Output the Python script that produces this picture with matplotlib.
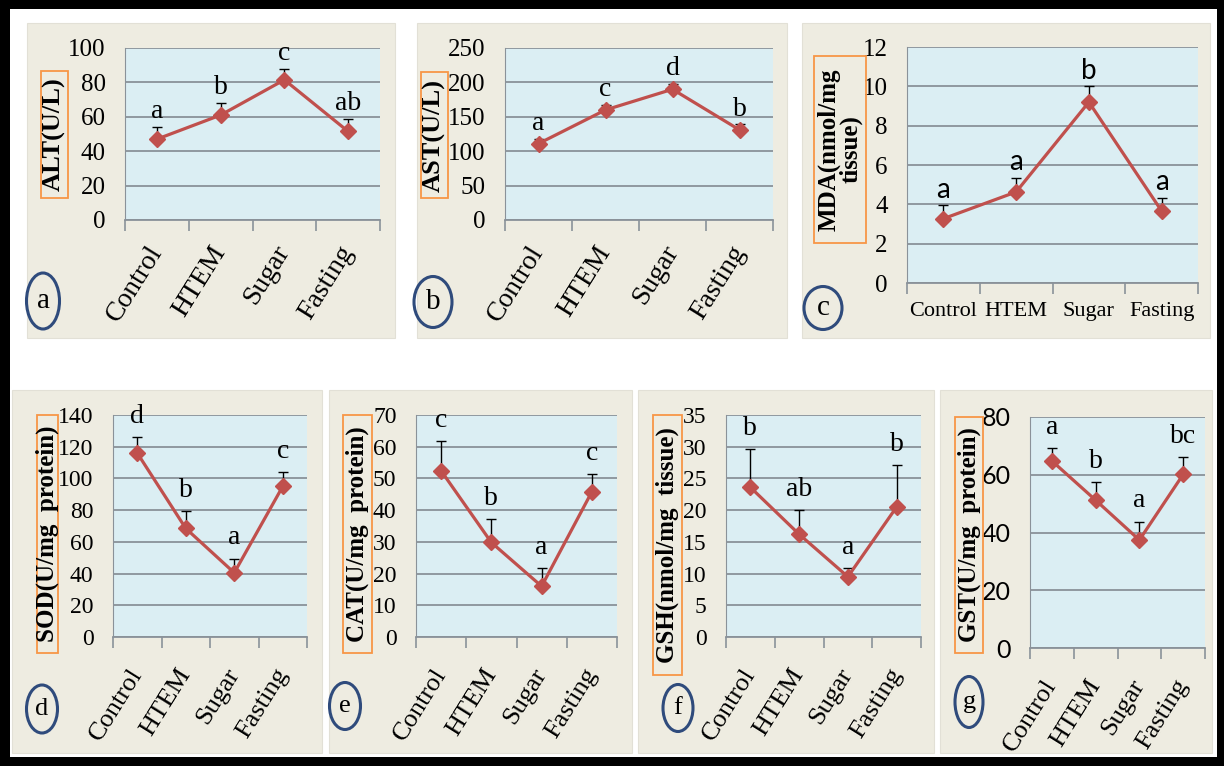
import numpy as np
import matplotlib
matplotlib.use("Agg")
import matplotlib.pyplot as plt
from matplotlib.patches import Rectangle, Ellipse

plt.rcParams['font.family'] = ['Liberation Serif', 'DejaVu Serif']

W, H = 1224, 766

# data
groups = ['Control', 'HTEM', 'Sugar', 'Fasting']

alt = [47, 61, 81.5, 51.5]
alt_err = [7, 7, 6.5, 7.5]
alt_sig = ['a', 'b', 'c', 'ab']

ast = [111, 160, 190, 131]
ast_err = [7, 7, 8, 8]
ast_sig = ['a', 'c', 'd', 'b']

mda = [3.27, 4.63, 9.2, 3.66]
mda_err = [0.68, 0.73, 0.8, 0.66]
mda_sig = ['a', 'a', 'b', 'a']

sod = [116, 68.5, 40.5, 95]
sod_err = [10, 11, 9, 9]
sod_sig = ['d', 'b', 'a', 'c']

cat = [52.4, 29.8, 16.0, 45.8]
cat_err = [9.4, 7.4, 5.6, 5.5]
cat_sig = ['c', 'b', 'a', 'c']

gsh = [23.6, 16.2, 9.5, 20.5]
gsh_err = [6.0, 3.8, 1.3, 6.6]
gsh_sig = ['b', 'ab', 'a', 'b']

gst = [64.8, 51.2, 37.4, 60.1]
gst_err = [4.5, 6.2, 6.3, 6.1]
gst_sig = ['a', 'b', 'a', 'bc']

ylabels = ['ALT(U/L)', 'AST(U/L)', 'MDA(nmol/mg\ntissue)', 'SOD(U/mg  protein)',
           'CAT(U/mg  protein)', 'GSH(nmol/mg  tissue)', 'GST(U/mg  protein)']
ylims = [(100, 20), (250, 50), (12, 2), (140, 20), (70, 10), (35, 5), (80, 20)]
panel_ids = ['a', 'b', 'c', 'd', 'e', 'f', 'g']

# layout in pixels: panel box, plot area, label box, circle (cx, cy, w, h)
layout = [
    ((27, 23, 395, 338), (125, 48, 380, 220), (41, 71, 68, 198), (43, 301, 33, 56)),
    ((417, 23, 787, 338), (505, 48, 773, 220), (421, 72, 448, 198), (433, 302, 38, 51)),
    ((802, 23, 1210, 338), (907, 47, 1198, 283), (814, 56, 866, 243), (823, 308, 38, 43)),
    ((12, 390, 322, 753), (113, 415, 307, 637), (37, 415, 58, 653), (42, 709, 31, 48)),
    ((329, 390, 632, 753), (416, 415, 617, 637), (343, 415, 372, 653), (345, 706, 31, 47)),
    ((638, 390, 934, 753), (726, 415, 921, 637), (653, 415, 682, 675), (678, 708, 30, 47)),
    ((940, 390, 1212, 753), (1030, 417, 1205, 648), (955, 417, 983, 653), (969, 702, 28, 51)),
]

values = [alt, ast, mda, sod, cat, gsh, gst]
errors = [alt_err, ast_err, mda_err, sod_err, cat_err, gsh_err, gst_err]
sigs = [alt_sig, ast_sig, mda_sig, sod_sig, cat_sig, gsh_sig, gst_sig]

beige = '#EEECE1'
blue = '#DBEEF3'
grid_c = '#8A9299'
red = '#C0504D'


def frect(x0, y0, x1, y1):
    return [x0 / W, 1 - y1 / H, (x1 - x0) / W, (y1 - y0) / H]


fig = plt.figure(figsize=(W / 100, H / 100), dpi=100)
fig.patch.set_facecolor('white')

# outer black frame
for r in [(0, 0, W, 9), (0, 0, 10, H), (1217, 0, W, H), (0, 757, W, H)]:
    x, y, w, h = frect(*r)
    fig.patches.append(Rectangle((x, y), w, h, transform=fig.transFigure,
                                 fc='black', ec='none', zorder=5))

for i in range(7):
    box, area, lbox, circ = layout[i]
    x, y, w, h = frect(*box)
    fig.patches.append(Rectangle((x, y), w, h, transform=fig.transFigure,
                                 fc=beige, ec='#E2E0D6', lw=0.8, zorder=-2))
    x, y, w, h = frect(*lbox)
    fig.patches.append(Rectangle((x, y), w, h, transform=fig.transFigure,
                                 fc='none', ec='#F79646', lw=1.3, zorder=2))
    top = i < 3
    ylab_size = 19 if top else 18
    if i == 2:
        ylab_size = 18
    fig.text(x + w / 2, y + h / 2, ylabels[i], rotation=90, ha='center', va='center',
             fontsize=ylab_size, fontweight='bold', linespacing=0.95, zorder=3)
    cx, cy, cw, ch = circ
    fig.patches.append(Ellipse((cx / W, 1 - cy / H), cw / W, ch / H, transform=fig.transFigure,
                               fc='none', ec='#2F4B7C', lw=2.2, zorder=2))
    fig.text(cx / W, 1 - cy / H, panel_ids[i], ha='center', va='center',
             fontsize=21 if top else 19, zorder=3)

    ax = fig.add_axes(frect(*area))
    ax.set_facecolor(blue)
    ymax, step = ylims[i]
    ax.set_ylim(0, ymax)
    ax.set_yticks(np.arange(0, ymax + step / 2, step))
    ax.set_xlim(-0.5, 3.5)
    ax.yaxis.grid(True, color=grid_c, lw=1.3)
    ax.set_axisbelow(True)
    for s in ['top', 'right']:
        ax.spines[s].set_visible(False)
    ax.spines['left'].set_color(grid_c)
    ax.spines['bottom'].set_color(grid_c)
    ax.spines['bottom'].set_linewidth(1.3)

    xs = np.arange(4)
    ax.errorbar(xs, values[i], yerr=[np.zeros(4), errors[i]], fmt='none',
                ecolor='black', elinewidth=1.0, capsize=3.5, capthick=1.0, zorder=3)
    ax.plot(xs, values[i], color=red, lw=2.3, marker='D', markersize=8, zorder=4)

    sans = (i == 2)
    for k in range(4):
        ax.annotate(sigs[i][k], (xs[k], values[i][k] + errors[i][k]),
                    xytext=(0, 2 if top else 6), textcoords='offset points',
                    ha='center', va='bottom', fontsize=20,
                    family=['Lato'] if sans else None, annotation_clip=False)

    # boundary ticks and category labels
    ax.set_xticks(np.arange(-0.5, 4, 1))
    ax.set_xticklabels([])
    ax.tick_params(axis='x', which='major', length=8, color=grid_c, width=1.2)
    ax.set_xticks(xs, minor=True)
    if i == 2:
        ax.set_xticklabels(groups, minor=True, fontsize=16)
        ax.tick_params(axis='x', which='minor', length=0, pad=14)
    else:
        ax.set_xticklabels(groups, minor=True, rotation=58, ha='right', va='center',
                           rotation_mode='anchor', fontsize=20 if top else 19)
        ax.tick_params(axis='x', which='minor', length=0, pad=20 if top else 24)
    ax.tick_params(axis='y', length=0, pad=14, labelsize=18 if top else 17)
    if i == 6:
        for t in ax.get_yticklabels():
            t.set_family(['Lato'])
            t.set_fontsize(18)

fig.savefig('out.png', dpi=100)
